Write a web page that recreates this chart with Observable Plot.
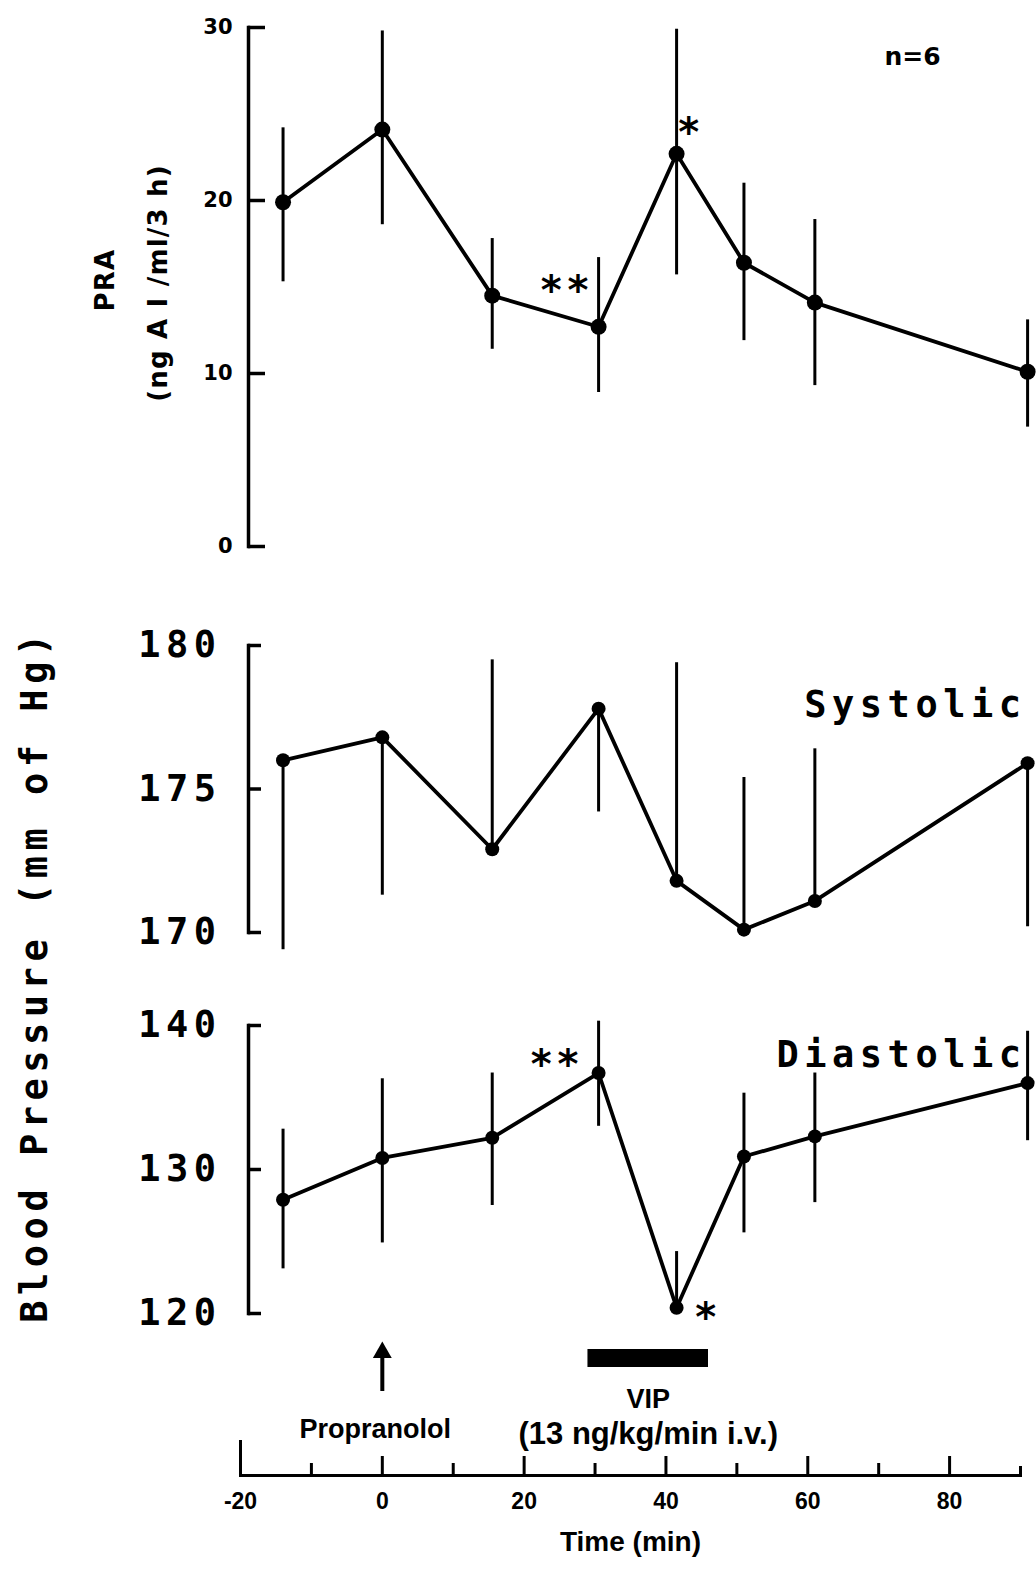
<!DOCTYPE html>
<html>
<head>
<meta charset="utf-8">
<script src="https://cdn.jsdelivr.net/npm/d3@7"></script>
<script src="https://cdn.jsdelivr.net/npm/@observablehq/plot@0.6"></script>
<style>
  body { margin: 0; background: #fff; }
  #chart { width: 1036px; height: 1570px; background: #fff; }
  #chart svg { display: block; overflow: visible; }
</style>
</head>
<body>
<div id="chart"></div>
<script>
// Sampling times (min) shared by all three panels
const times = [-14, 0, 15.5, 30.5, 41.5, 51, 61, 91];

// Plasma renin activity (ng AI/ml/3 h): mean with lower/upper error limits
const praMean = [19.9, 24.1, 14.5, 12.7, 22.7, 16.4, 14.1, 10.1];
const praLow  = [15.3, 18.6, 11.4, 8.9, 15.7, 11.9, 9.3, 6.9];
const praHigh = [24.2, 29.8, 17.8, 16.7, 29.9, 21.0, 18.9, 13.1];

// Systolic pressure (mm Hg), one-sided error bars
const sysMean = [176.0, 176.8, 172.9, 177.8, 171.8, 170.1, 171.1, 175.9];
const sysLow  = [169.4, 171.3, 172.9, 174.2, 171.8, 170.1, 171.1, 170.2];
const sysHigh = [176.0, 176.8, 179.5, 177.8, 179.4, 175.4, 176.4, 175.9];

// Diastolic pressure (mm Hg)
const diaMean = [127.9, 130.8, 132.2, 136.7, 120.4, 130.9, 132.3, 136.0];
const diaLow  = [123.1, 124.9, 127.5, 133.0, 120.4, 125.6, 127.7, 132.0];
const diaHigh = [132.8, 136.3, 136.7, 140.3, 124.3, 135.3, 136.7, 139.6];

// Axis ticks
const praTicks = [0, 10, 20, 30];
const sysTicks = [170, 175, 180];
const diaTicks = [120, 130, 140];
const timeLabels = [-20, 0, 20, 40, 60, 80];
const timeMinor = [-10, 10, 30, 50, 70];
const timeStart = [-20];
const timeEnd = [90];

// Treatments
const propranolol = [{t: 0, label: "Propranolol"}];
const vipInfusion = [{start: 29, end: 46, label: "VIP", dose: "(13 ng/kg/min i.v.)"}];

// Significance marks: index into the series
const praStars = [{i: 3, text: "**"}, {i: 4, text: "*"}];
const diaStars = [{i: 3, text: "**"}, {i: 4, text: "*"}];

const W = 1036;
const X = {domain: [-20, 90], range: [240, 1020], axis: null};
const AXIS_LEFT = 248, RIGHT = 16;
const SANS = "DejaVu Sans, sans-serif";
const HELV = "Liberation Sans, Arial, sans-serif";
const MONO = "DejaVu Sans Mono, monospace";
const MONO_SIZE = 37, STAR_SIZE = 40, PRA_LABEL_SIZE = 26;

function rowsOf(mean, low, high) {
  return times.map((t, i) => ({t, v: mean[i], lo: low[i], hi: high[i]}));
}

function starMarks(rows, stars, offsets) {
  return stars.map((s, k) => Plot.text([rows[s.i]], {
    x: "t", y: "v", text: () => s.text,
    dx: offsets[k][0], dy: offsets[k][1],
    fontFamily: SANS, fontWeight: "bold", fontSize: STAR_SIZE
  }));
}

function panel({height, marginTop, marginBottom, yDomain, ticks, rows, tickLen, tickText, r, extra}) {
  const frameW = W - AXIS_LEFT - RIGHT;
  return Plot.plot({
    width: W, height, marginLeft: AXIS_LEFT, marginRight: RIGHT, marginTop, marginBottom,
    x: X,
    y: {domain: yDomain, axis: null},
    style: {background: "transparent", overflow: "visible", color: "black"},
    marks: [
      Plot.frame({anchor: "left", strokeWidth: 3.5}),
      Plot.ruleY(ticks, {y: d => d, insetRight: frameW - tickLen, strokeWidth: 3.5}),
      Plot.text(ticks, {y: d => d, text: d => String(d), frameAnchor: "left", textAnchor: "end", ...tickText}),
      Plot.ruleX(rows, {x: "t", y1: "lo", y2: "hi", strokeWidth: 3}),
      Plot.line(rows, {x: "t", y: "v", strokeWidth: 3.8}),
      Plot.dot(rows, {x: "t", y: "v", r, fill: "black", stroke: "none"}),
      ...extra
    ]
  });
}

// Widen the tracking of the typewriter-style and large bold labels
function track(svg) {
  svg.querySelectorAll("g").forEach(g => {
    const fam = g.getAttribute("font-family") || "";
    const size = +g.getAttribute("font-size");
    if (fam.startsWith("DejaVu Sans Mono")) g.style.letterSpacing = "5.5px";
    else if (size === STAR_SIZE) g.style.letterSpacing = "6px";
    else if (size === PRA_LABEL_SIZE) g.style.letterSpacing = "1.2px";
  });
  return svg;
}

const praRows = rowsOf(praMean, praLow, praHigh);
const sysRows = rowsOf(sysMean, sysLow, sysHigh);
const diaRows = rowsOf(diaMean, diaLow, diaHigh);

const monoTick = {dx: -27, fontFamily: MONO, fontWeight: "bold", fontSize: MONO_SIZE};

// Plasma renin activity
const praPlot = panel({
  height: 580, marginTop: 27, marginBottom: 34,
  yDomain: [0, 30], ticks: praTicks, rows: praRows, tickLen: 17, r: 8,
  tickText: {dx: -16, fontFamily: SANS, fontWeight: "bold", fontSize: 21},
  extra: [
    Plot.text(["PRA"], {text: d => d, frameAnchor: "left", textAnchor: "middle", rotate: -90, dx: -143, dy: -7,
      fontFamily: SANS, fontWeight: "bold", fontSize: PRA_LABEL_SIZE}),
    Plot.text(["(ng A I /ml/3 h)"], {text: d => d, frameAnchor: "left", textAnchor: "middle", rotate: -90, dx: -90, dy: -4,
      fontFamily: SANS, fontWeight: "bold", fontSize: PRA_LABEL_SIZE}),
    Plot.text(["n=6"], {text: d => d, frameAnchor: "top-right", textAnchor: "middle", dx: -108, dy: 20,
      fontFamily: SANS, fontWeight: "bold", fontSize: 25}),
    ...starMarks(praRows, praStars, [[-31, -36], [15, -21]])
  ]
});

// Systolic blood pressure
const sysPlot = panel({
  height: 380, marginTop: 65, marginBottom: 28,
  yDomain: [170, 180], ticks: sysTicks, rows: sysRows, tickLen: 13, r: 7,
  tickText: monoTick,
  extra: [
    Plot.text(["Systolic"], {text: d => d, frameAnchor: "top-right", textAnchor: "end", dx: 6, dy: 45,
      fontFamily: MONO, fontWeight: "bold", fontSize: MONO_SIZE})
  ]
});

// Diastolic blood pressure, with the shared axis title
const diaPlot = panel({
  height: 380, marginTop: 65, marginBottom: 27,
  yDomain: [120, 140], ticks: diaTicks, rows: diaRows, tickLen: 13, r: 7,
  tickText: monoTick,
  extra: [
    Plot.text(["Diastolic"], {text: d => d, frameAnchor: "top-right", textAnchor: "end", dx: 6, dy: 15,
      fontFamily: MONO, fontWeight: "bold", fontSize: MONO_SIZE}),
    Plot.text(["Blood Pressure (mm of Hg)"], {text: d => d, frameAnchor: "left", textAnchor: "middle", rotate: -90,
      dx: -213, dy: -194, fontFamily: MONO, fontWeight: "bold", fontSize: MONO_SIZE}),
    ...starMarks(diaRows, diaStars, [[-41, -8], [32, 10]])
  ]
});

// Treatment annotations and the time axis
const FRAME_H = 135;
const timePlot = Plot.plot({
  width: W, height: 230, marginLeft: 240, marginRight: RIGHT, marginTop: 0, marginBottom: 95,
  x: X,
  style: {background: "transparent", overflow: "visible", color: "black"},
  marks: [
    Plot.frame({anchor: "bottom", strokeWidth: 3}),
    Plot.tickX(timeStart, {x: d => d, insetTop: FRAME_H - 35, strokeWidth: 3}),
    Plot.tickX(timeLabels.filter(d => d > -20), {x: d => d, insetTop: FRAME_H - 19, strokeWidth: 3}),
    Plot.tickX(timeMinor, {x: d => d, insetTop: FRAME_H - 12, strokeWidth: 3}),
    Plot.tickX(timeEnd, {x: d => d, insetTop: FRAME_H - 9, strokeWidth: 3}),
    Plot.text(timeLabels, {x: d => d, text: d => String(d), frameAnchor: "bottom", dy: 33,
      fontFamily: HELV, fontWeight: "bold", fontSize: 23}),
    Plot.text(["Time (min)"], {text: d => d, frameAnchor: "bottom", dy: 75,
      fontFamily: HELV, fontWeight: "bold", fontSize: 28}),
    // propranolol arrow
    Plot.ruleX(propranolol, {x: "t", insetTop: 14, insetBottom: 84, strokeWidth: 4}),
    Plot.dot(propranolol, {x: "t", frameAnchor: "top", dy: 12, symbol: "triangle", r: 7, fill: "black", stroke: "none"}),
    Plot.text(propranolol, {x: "t", text: "label", frameAnchor: "top", dx: -7, dy: 78,
      fontFamily: HELV, fontWeight: "bold", fontSize: 27}),
    // VIP infusion bar
    Plot.barX(vipInfusion, {x1: "start", x2: "end", insetTop: 9, insetBottom: FRAME_H - 27, fill: "black"}),
    Plot.text(vipInfusion, {x: d => (d.start + d.end) / 2, text: "label", frameAnchor: "top", dy: 48,
      fontFamily: HELV, fontWeight: "bold", fontSize: 27}),
    Plot.text(vipInfusion, {x: d => (d.start + d.end) / 2, text: "dose", frameAnchor: "top", dy: 81,
      fontFamily: HELV, fontWeight: "bold", fontSize: 31})
  ]
});

const chart = document.getElementById("chart");
[praPlot, sysPlot, diaPlot, timePlot].forEach(p => chart.appendChild(track(p)));
</script>
</body>
</html>
